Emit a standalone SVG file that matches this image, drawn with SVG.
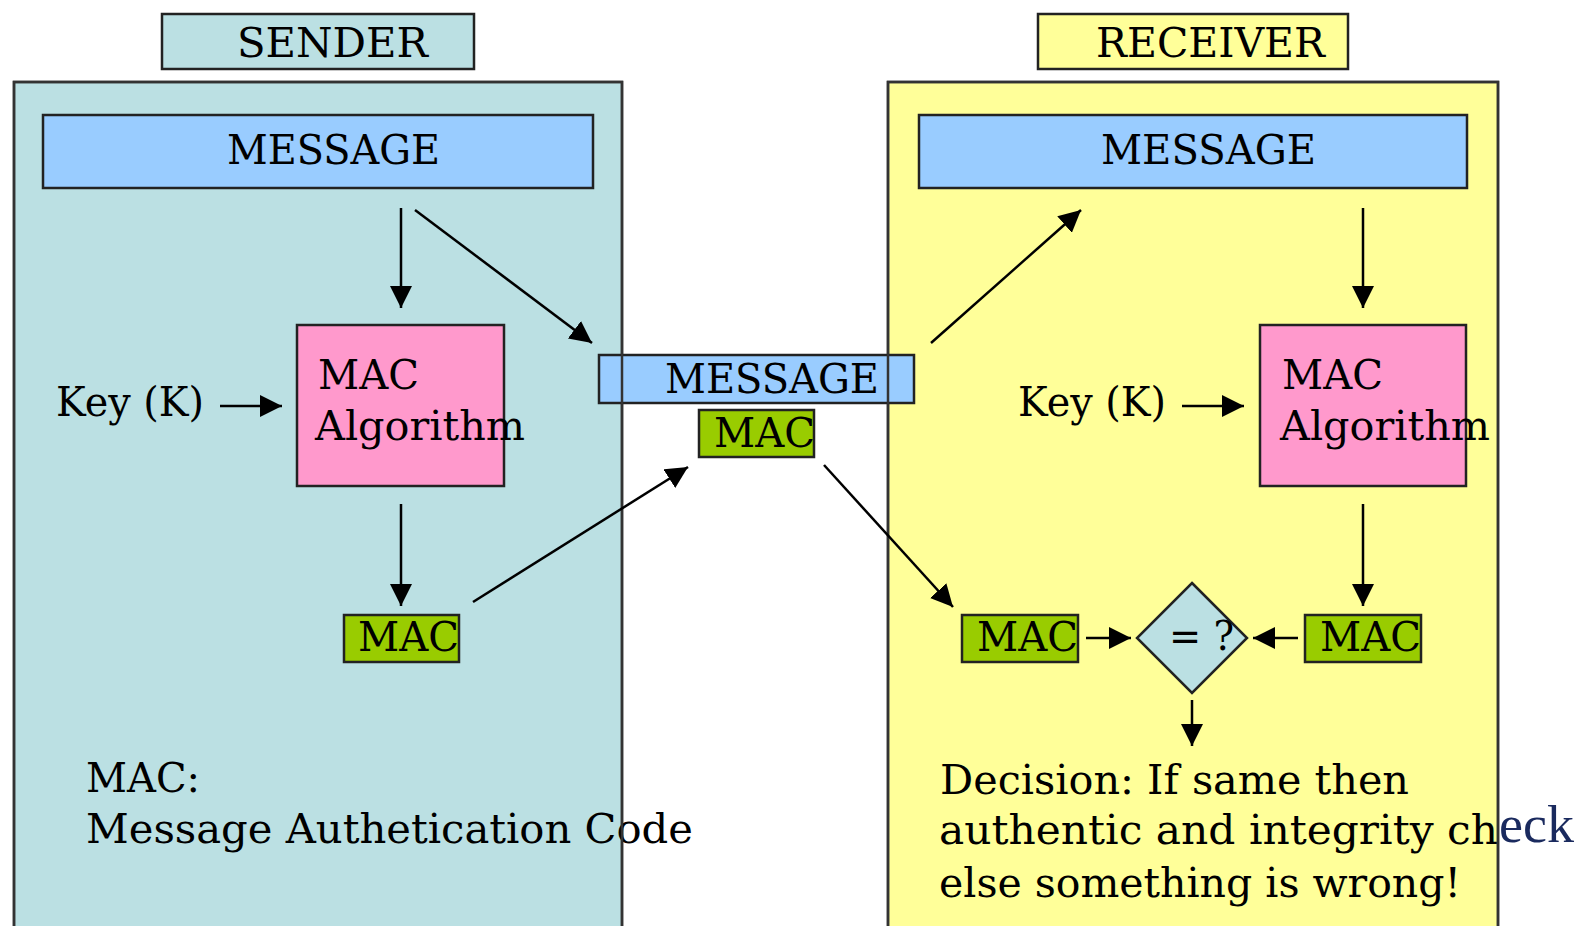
<svg xmlns="http://www.w3.org/2000/svg" width="1580" height="926" viewBox="0 0 1580 926">
<style>
.t{font-family:"DejaVu Serif","Liberation Serif",serif;font-size:41px;fill:#000}
.box{stroke:#222;stroke-width:2.5}
.panel{stroke:#333;stroke-width:2.5}
.c{stroke:#000;stroke-width:2.5;fill:none}
</style>
<defs>
<marker id="ah" markerUnits="userSpaceOnUse" markerWidth="24" markerHeight="22" refX="22" refY="11" orient="auto">
<path d="M0,0 L22,11 L0,22 Z" fill="#000"/>
</marker>
</defs>
<rect width="1580" height="926" fill="#fff"/>

<g id="sender-panel">
<rect class="panel" x="14" y="82" width="608" height="850" fill="#bbe0e3"/>
</g>
<g id="receiver-panel">
<rect class="panel" x="888" y="82" width="610" height="850" fill="#ffff99"/>
</g>

<g id="sender-title">
<rect class="box" x="162" y="14" width="312" height="55" fill="#bbe0e3"/>
<text class="t" x="237" y="57" textLength="191" lengthAdjust="spacingAndGlyphs">SENDER</text>
</g>
<g id="receiver-title">
<rect class="box" x="1038" y="14" width="310" height="55" fill="#ffff99"/>
<text class="t" x="1096" y="57" textLength="229" lengthAdjust="spacingAndGlyphs">RECEIVER</text>
</g>

<g id="sender-message">
<rect class="box" x="43" y="115" width="550" height="73" fill="#99ccff"/>
<text class="t" x="227" y="164" textLength="213" lengthAdjust="spacingAndGlyphs">MESSAGE</text>
</g>
<g id="receiver-message">
<rect class="box" x="919" y="115" width="548" height="73" fill="#99ccff"/>
<text class="t" x="1101" y="164" textLength="215" lengthAdjust="spacingAndGlyphs">MESSAGE</text>
</g>

<g id="sender-algorithm">
<rect class="box" x="297" y="325" width="207" height="161" fill="#ff99cc"/>
<text class="t" x="318" y="389" textLength="101" lengthAdjust="spacingAndGlyphs">MAC</text>
<text class="t" x="315" y="440" textLength="210" lengthAdjust="spacingAndGlyphs">Algorithm</text>
</g>
<g id="receiver-algorithm">
<rect class="box" x="1260" y="325" width="206" height="161" fill="#ff99cc"/>
<text class="t" x="1282" y="389" textLength="101" lengthAdjust="spacingAndGlyphs">MAC</text>
<text class="t" x="1280" y="440" textLength="210" lengthAdjust="spacingAndGlyphs">Algorithm</text>
</g>

<g id="sender-key">
<text class="t" x="56" y="416" textLength="148" lengthAdjust="spacingAndGlyphs">Key (K)</text>
</g>
<g id="receiver-key">
<text class="t" x="1018" y="416" textLength="148" lengthAdjust="spacingAndGlyphs">Key (K)</text>
</g>

<g id="sender-mac">
<rect class="box" x="344" y="615" width="115" height="47" fill="#99cc00"/>
<text class="t" x="358" y="651" textLength="101" lengthAdjust="spacingAndGlyphs">MAC</text>
</g>

<g id="transit-message">
<rect class="box" x="599" y="355" width="315" height="48" fill="#99ccff"/>
<text class="t" x="665" y="393" textLength="214" lengthAdjust="spacingAndGlyphs">MESSAGE</text>
</g>
<g id="transit-mac">
<rect class="box" x="699" y="410" width="115" height="47" fill="#99cc00"/>
<text class="t" x="714" y="447" textLength="101" lengthAdjust="spacingAndGlyphs">MAC</text>
</g>

<g id="receiver-mac-received">
<rect class="box" x="962" y="615" width="116" height="47" fill="#99cc00"/>
<text class="t" x="977" y="651" textLength="101" lengthAdjust="spacingAndGlyphs">MAC</text>
</g>
<g id="receiver-mac-computed">
<rect class="box" x="1305" y="615" width="116" height="47" fill="#99cc00"/>
<text class="t" x="1320" y="651" textLength="101" lengthAdjust="spacingAndGlyphs">MAC</text>
</g>

<g id="compare">
<path class="box" d="M1192,583 L1247,638 L1192,693 L1137,638 Z" fill="#bbe0e3" stroke-width="2"/>
<text class="t" x="1169" y="650" textLength="65" lengthAdjust="spacingAndGlyphs">= ?</text>
</g>

<g id="mac-note">
<text class="t" x="86" y="792" textLength="114" lengthAdjust="spacingAndGlyphs">MAC:</text>
<text class="t" x="86" y="843" textLength="607" lengthAdjust="spacingAndGlyphs">Message Authetication Code</text>
</g>

<g id="decision-note">
<text class="t" x="940" y="794" textLength="469" lengthAdjust="spacingAndGlyphs">Decision: If same then</text>
<text class="t" x="939" y="844" textLength="559" lengthAdjust="spacingAndGlyphs">authentic and integrity ch</text>
<text x="1499" y="842" font-family="Liberation Serif, serif" font-size="52" fill="#1a2a5e" textLength="75" lengthAdjust="spacingAndGlyphs">eck</text>
<text class="t" x="939" y="897" textLength="522" lengthAdjust="spacingAndGlyphs">else something is wrong!</text>
</g>

<g id="panel-borders">
<rect class="panel" x="14" y="82" width="608" height="850" fill="none"/>
<rect class="panel" x="888" y="82" width="610" height="850" fill="none"/>
</g>

<g id="connectors">
<line class="c" x1="401" y1="208" x2="401" y2="308" marker-end="url(#ah)"/>
<line class="c" x1="415" y1="210" x2="592" y2="343" marker-end="url(#ah)"/>
<line class="c" x1="220" y1="406" x2="282" y2="406" marker-end="url(#ah)"/>
<line class="c" x1="401" y1="504" x2="401" y2="606" marker-end="url(#ah)"/>
<line class="c" x1="473" y1="602" x2="688" y2="467" marker-end="url(#ah)"/>
<line class="c" x1="931" y1="343" x2="1081" y2="210" marker-end="url(#ah)"/>
<line class="c" x1="824" y1="465" x2="953" y2="607" marker-end="url(#ah)"/>
<line class="c" x1="1363" y1="208" x2="1363" y2="308" marker-end="url(#ah)"/>
<line class="c" x1="1182" y1="406" x2="1244" y2="406" marker-end="url(#ah)"/>
<line class="c" x1="1363" y1="504" x2="1363" y2="606" marker-end="url(#ah)"/>
<line class="c" x1="1086" y1="638" x2="1131" y2="638" marker-end="url(#ah)"/>
<line class="c" x1="1298" y1="638" x2="1253" y2="638" marker-end="url(#ah)"/>
<line class="c" x1="1192" y1="700" x2="1192" y2="746" marker-end="url(#ah)"/>
</g>
</svg>
